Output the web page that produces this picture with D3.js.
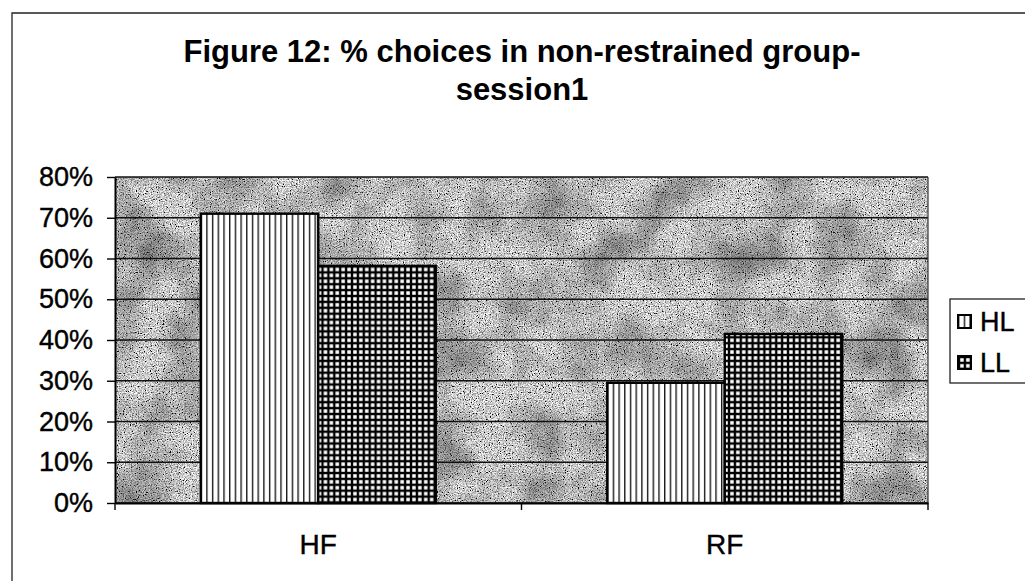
<!DOCTYPE html>
<html>
<head>
<meta charset="utf-8">
<script src="https://cdn.jsdelivr.net/npm/d3@7"></script>
<style>
  body { margin: 0; background: #fff; }
  svg { display: block; font-family: "Liberation Sans", Arial, sans-serif; }
</style>
</head>
<body>
<svg id="chart" width="1025" height="581"></svg>
<script>
// chart data
const categories = ['HF', 'RF'];
const seriesNames = ['HL', 'LL'];
const hlValues = [0.71, 0.295];
const llValues = [0.582, 0.415];
const yTicks = [0, 0.1, 0.2, 0.3, 0.4, 0.5, 0.6, 0.7, 0.8];
const titleLines = ['Figure 12: % choices in non-restrained group-', 'session1'];

const margin = {top: 177, right: 97, bottom: 78, left: 115},
    width = 1025 - margin.left - margin.right,
    height = 581 - margin.top - margin.bottom;

const svg = d3.select('#chart');
const defs = svg.append('defs');

// fine grain like the scanned grey fill
const grain = defs.append('filter').attr('id', 'grain')
    .attr('x', 0).attr('y', 0).attr('width', '100%').attr('height', '100%');
grain.append('feTurbulence')
    .attr('type', 'fractalNoise')
    .attr('baseFrequency', 0.85)
    .attr('numOctaves', 2)
    .attr('seed', 7)
    .attr('result', 'n');
grain.append('feColorMatrix')
    .attr('in', 'n')
    .attr('type', 'matrix')
    .attr('values', '1.4 1.4 1.4 0 -1.5  1.4 1.4 1.4 0 -1.5  1.4 1.4 1.4 0 -1.5  0 0 0 0 1');

// soft darker mottling
const blotch = defs.append('filter').attr('id', 'blotch')
    .attr('x', 0).attr('y', 0).attr('width', '100%').attr('height', '100%');
blotch.append('feTurbulence')
    .attr('type', 'fractalNoise')
    .attr('baseFrequency', 0.02)
    .attr('numOctaves', 3)
    .attr('seed', 3)
    .attr('result', 'b');
blotch.append('feColorMatrix')
    .attr('in', 'b')
    .attr('type', 'matrix')
    .attr('values', '0 0 0 0 0  0 0 0 0 0  0 0 0 0 0  0.8 0 0 0 -0.3');

// vertical stripes for HL
const pHL = defs.append('pattern').attr('id', 'hl')
    .attr('patternUnits', 'userSpaceOnUse').attr('width', 5.7).attr('height', 10);
pHL.append('rect').attr('width', 5.7).attr('height', 10).attr('fill', '#fff');
pHL.append('rect').attr('x', 0).attr('width', 1.4).attr('height', 10).attr('fill', '#1a1a1a');

// grid for LL
const pLL = defs.append('pattern').attr('id', 'll')
    .attr('patternUnits', 'userSpaceOnUse').attr('width', 5.9).attr('height', 5.9);
pLL.append('rect').attr('width', 5.9).attr('height', 5.9).attr('fill', '#000');
pLL.append('rect').attr('x', 2.2).attr('y', 2.2).attr('width', 3.5).attr('height', 3.5).attr('fill', '#fff');

// outer frame
svg.append('path')
    .attr('d', 'M12,581V13H1025')
    .attr('fill', 'none').attr('stroke', '#222').attr('stroke-width', 1.3);

// title
svg.append('text')
    .attr('x', 522).attr('y', 62)
    .attr('text-anchor', 'middle')
    .style('font-weight', 'bold').style('font-size', '31px')
    .selectAll('tspan')
    .data(titleLines)
    .enter()
    .append('tspan')
    .attr('x', 522)
    .attr('dy', (d, i) => i === 0 ? 0 : 38)
    .text(d => d);

const g = svg.append('g')
    .attr('transform', 'translate(' + margin.left + ',' + margin.top + ')');

// scales
const x0 = d3.scaleBand().domain(categories).range([0, width]).padding(0);
const x1 = d3.scaleBand().domain(seriesNames).range([0, x0.bandwidth()]).paddingOuter(0.73);
const y = d3.scaleLinear().domain([0, 0.8]).range([height, 0]);

// plot background
g.append('rect').attr('width', width).attr('height', height)
    .attr('filter', 'url(#grain)');
g.append('rect').attr('width', width).attr('height', height)
    .attr('filter', 'url(#blotch)');

// gridlines
g.selectAll('.grid')
    .data(yTicks)
    .enter()
    .append('line')
    .attr('x1', 0).attr('x2', width)
    .attr('y1', d => y(d)).attr('y2', d => y(d))
    .attr('stroke', '#111').attr('stroke-width', 1.4);

// right border
g.append('line')
    .attr('x1', width).attr('x2', width).attr('y1', 0).attr('y2', height)
    .attr('stroke', '#333').attr('stroke-width', 1.2);

// bars
const rows = categories.map((c, i) => ({cat: c, vals: [
    {key: 'HL', value: hlValues[i]},
    {key: 'LL', value: llValues[i]}
]}));

g.selectAll('.group')
    .data(rows)
    .enter()
    .append('g')
    .attr('transform', d => 'translate(' + x0(d.cat) + ',0)')
    .selectAll('rect')
    .data(d => d.vals)
    .enter()
    .append('rect')
    .attr('x', d => x1(d.key))
    .attr('y', d => y(d.value))
    .attr('width', x1.bandwidth())
    .attr('height', d => height - y(d.value))
    .attr('fill', d => d.key === 'HL' ? 'url(#hl)' : 'url(#ll)')
    .attr('stroke', '#000')
    .attr('stroke-width', 2.4);

// y axis
const yAxis = g.append('g')
    .call(d3.axisLeft(y).tickValues(yTicks).tickFormat(d3.format('.0%')).tickSize(8).tickSizeOuter(0));
yAxis.select('.domain').attr('stroke', '#000').attr('stroke-width', 2);
yAxis.selectAll('.tick line').attr('stroke', '#000').attr('stroke-width', 1.4);
yAxis.selectAll('text')
    .attr('x', -22)
    .style('font-size', '27px')
    .attr('fill', '#000')
    .attr('stroke', '#000').attr('stroke-width', 0.4);

// x axis with ticks between categories
const xAxis = g.append('g')
    .attr('transform', 'translate(0,' + height + ')')
    .call(d3.axisBottom(x0).tickSize(0).tickSizeOuter(0));
xAxis.select('.domain').attr('stroke', '#000').attr('stroke-width', 2);
xAxis.selectAll('text')
    .attr('dy', 0)
    .attr('y', 51)
    .style('font-size', '28px')
    .attr('fill', '#000')
    .attr('stroke', '#000').attr('stroke-width', 0.4);
xAxis.selectAll('.sep')
    .data([0, width / 2, width])
    .enter()
    .append('line')
    .attr('x1', d => d).attr('x2', d => d)
    .attr('y1', 0).attr('y2', 7)
    .attr('stroke', '#000').attr('stroke-width', 1.4);

// legend
const legend = svg.append('g').attr('transform', 'translate(950,299)');
legend.append('rect')
    .attr('width', 80).attr('height', 84)
    .attr('fill', '#fff').attr('stroke', '#222').attr('stroke-width', 1.3);
const items = legend.selectAll('.item')
    .data(seriesNames)
    .enter()
    .append('g')
    .attr('transform', (d, i) => 'translate(8,' + (16 + i * 41) + ')');
items.append('rect')
    .attr('width', 13).attr('height', 13)
    .attr('fill', d => d === 'HL' ? 'url(#hl)' : 'url(#ll)')
    .attr('stroke', '#000').attr('stroke-width', 2);
items.append('text')
    .attr('x', 22).attr('y', 16)
    .style('font-size', '27px')
    .attr('stroke', '#000').attr('stroke-width', 0.4)
    .text(d => d);
</script>
</body>
</html>
